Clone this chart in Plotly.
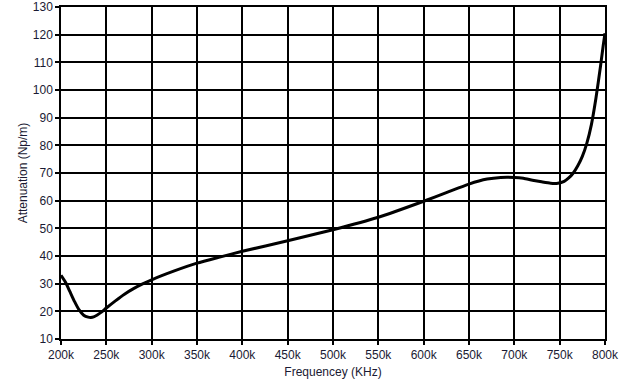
import plotly.graph_objects as go

freq_khz = [200, 205, 210, 215, 220, 225, 230, 233, 236, 240, 245, 250, 260, 270, 280, 290, 300,
            325, 350, 375, 400, 450, 500, 550, 600, 625, 650, 670, 685, 700, 710, 720, 730, 740,
            748, 755, 760, 765, 770, 775, 780, 785, 790, 795, 798, 800]
atten = [33.0, 30.5, 27.0, 23.5, 20.5, 18.6, 17.9, 17.8, 18.0, 18.7, 19.8, 21.2, 23.8, 26.2, 28.2, 29.9, 31.4,
         34.6, 37.4, 39.6, 41.7, 45.5, 49.5, 54.0, 59.8, 62.9, 66.0, 67.8, 68.4, 68.4, 68.1, 67.4, 66.8, 66.3,
         66.3, 67.0, 68.2, 70.0, 72.6, 76.0, 80.8, 87.5, 97.0, 108.5, 116.0, 120.5]

x_ticks = [200, 250, 300, 350, 400, 450, 500, 550, 600, 650, 700, 750, 800]
x_labels = [f"{v}k" for v in x_ticks]
y_ticks = list(range(10, 131, 10))

fig = go.Figure()
fig.add_trace(go.Scatter(
    x=[v * 1000 for v in freq_khz], y=atten, mode="lines",
    line=dict(color="black", width=3, shape="spline", smoothing=0.6),
    showlegend=False, hoverinfo="skip"))

font = dict(family="Liberation Sans", size=12, color="#1a1a33")
fig.update_layout(
    width=638, height=386,
    margin=dict(l=61, r=33, t=7, b=47),
    paper_bgcolor="white", plot_bgcolor="white",
    font=font,
    xaxis=dict(range=[200000, 800000], tickvals=[v * 1000 for v in x_ticks], ticktext=x_labels,
               showgrid=True, gridcolor="black", gridwidth=1.5, automargin=False,
               ticks="outside", ticklen=4, tickcolor="black", tickwidth=1.5,
               showline=True, linecolor="black", linewidth=1.5, mirror=True,
               zeroline=False, title=dict(text="Frequencey (KHz)", standoff=6, font=font)),
    yaxis=dict(range=[10, 130], tickvals=y_ticks, automargin=False,
               showgrid=True, gridcolor="black", gridwidth=1.5,
               ticks="outside", ticklen=4, tickcolor="black", tickwidth=1.5,
               showline=True, linecolor="black", linewidth=1.5, mirror=True,
               zeroline=False, title=dict(text="Attenuation (Np/m)", standoff=3, font=font)),
)
fig.write_html("out.html", config={"displayModeBar": False},
               post_script="document.body.style.margin='0px';document.body.style.overflow='hidden';")
